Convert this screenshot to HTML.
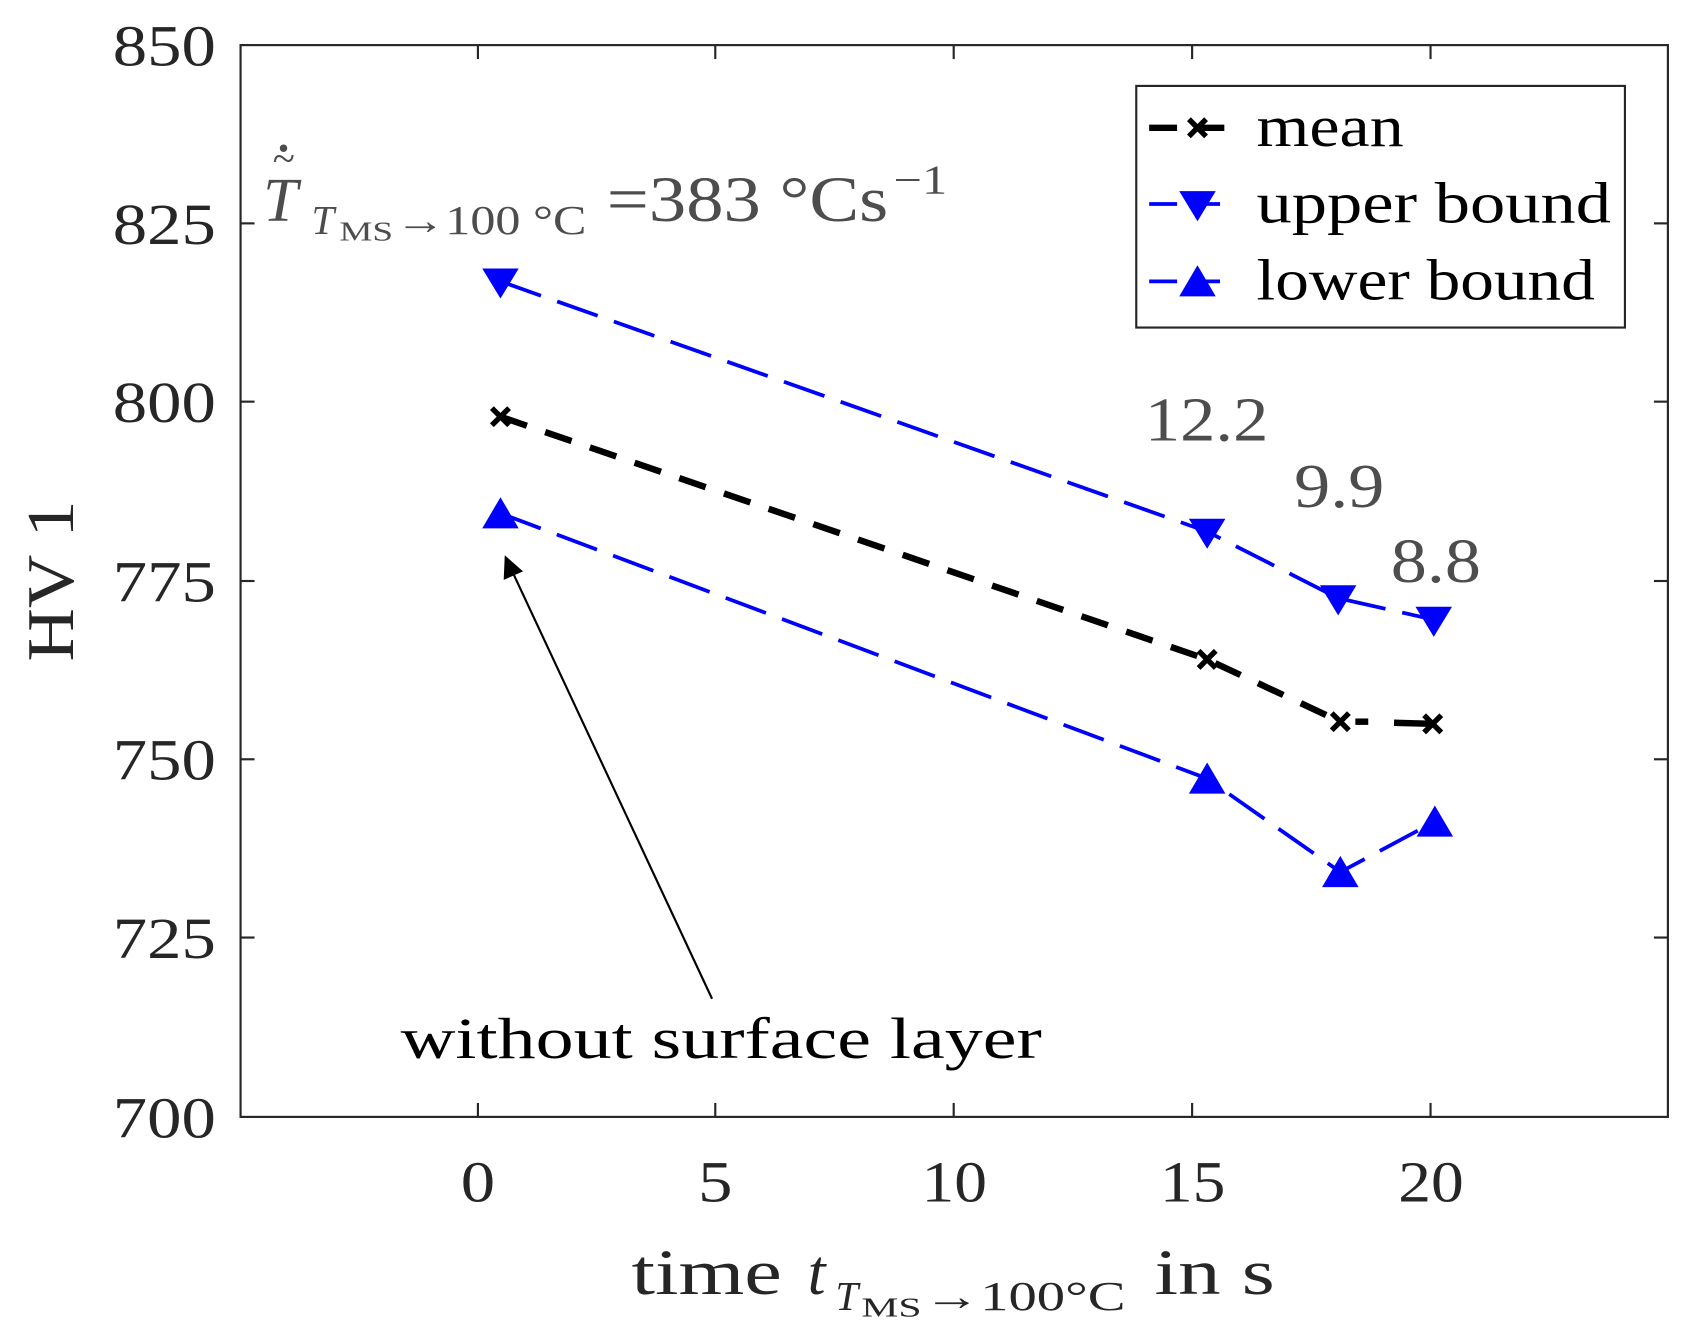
<!DOCTYPE html>
<html><head><style>html,body{margin:0;padding:0;background:#fff}svg{display:block}</style></head>
<body>
<svg width="1684" height="1329" viewBox="0 0 1568 1237.5" preserveAspectRatio="none" xmlns="http://www.w3.org/2000/svg" font-family="Liberation Serif, serif">
<rect x="0" y="0" width="1568" height="1238" fill="#fff"/>
<rect x="224" y="42" width="1329" height="998" fill="none" stroke="#262626" stroke-width="2"/>
<g stroke="#262626" stroke-width="2">
<line x1="445" y1="1040" x2="445" y2="1027"/><line x1="666" y1="1040" x2="666" y2="1027"/><line x1="888" y1="1040" x2="888" y2="1027"/><line x1="1110" y1="1040" x2="1110" y2="1027"/><line x1="1332" y1="1040" x2="1332" y2="1027"/>
<line x1="445" y1="42" x2="445" y2="55"/><line x1="666" y1="42" x2="666" y2="55"/><line x1="888" y1="42" x2="888" y2="55"/><line x1="1110" y1="42" x2="1110" y2="55"/><line x1="1332" y1="42" x2="1332" y2="55"/>
<line x1="224" y1="208" x2="237" y2="208"/><line x1="224" y1="374" x2="237" y2="374"/><line x1="224" y1="541" x2="237" y2="541"/><line x1="224" y1="707" x2="237" y2="707"/><line x1="224" y1="873" x2="237" y2="873"/>
<line x1="1553" y1="208" x2="1540" y2="208"/><line x1="1553" y1="374" x2="1540" y2="374"/><line x1="1553" y1="541" x2="1540" y2="541"/><line x1="1553" y1="707" x2="1540" y2="707"/><line x1="1553" y1="873" x2="1540" y2="873"/>
</g>
<g font-size="54" fill="#262626">
<text x="105" y="61" textLength="96" lengthAdjust="spacingAndGlyphs">850</text>
<text x="105" y="227" textLength="96" lengthAdjust="spacingAndGlyphs">825</text>
<text x="105" y="393" textLength="96" lengthAdjust="spacingAndGlyphs">800</text>
<text x="105" y="560" textLength="96" lengthAdjust="spacingAndGlyphs">775</text>
<text x="105" y="726" textLength="96" lengthAdjust="spacingAndGlyphs">750</text>
<text x="105" y="892" textLength="96" lengthAdjust="spacingAndGlyphs">725</text>
<text x="105" y="1059" textLength="96" lengthAdjust="spacingAndGlyphs">700</text>
</g>
<g font-size="54" fill="#262626">
<text x="429" y="1119" textLength="32" lengthAdjust="spacingAndGlyphs">0</text>
<text x="650" y="1119" textLength="32" lengthAdjust="spacingAndGlyphs">5</text>
<text x="858" y="1119" textLength="61" lengthAdjust="spacingAndGlyphs">10</text>
<text x="1080" y="1119" textLength="61" lengthAdjust="spacingAndGlyphs">15</text>
<text x="1302" y="1119" textLength="61" lengthAdjust="spacingAndGlyphs">20</text>
</g>
<text x="588" y="1205" font-size="60" fill="#262626" textLength="140" lengthAdjust="spacingAndGlyphs">time</text>
<text x="752" y="1205" font-size="60" fill="#262626" font-style="italic">t</text>
<text x="778" y="1220" font-size="38" fill="#262626" font-style="italic">T</text>
<text x="802" y="1226" font-size="26" fill="#262626" textLength="56" lengthAdjust="spacingAndGlyphs">MS</text>
<text x="860" y="1220" font-size="38" fill="#262626" textLength="188" lengthAdjust="spacingAndGlyphs">→100°C</text>
<text x="1075" y="1205" font-size="60" fill="#262626" textLength="112" lengthAdjust="spacingAndGlyphs">in s</text>
<text transform="translate(68,541) rotate(-90)" font-size="62" fill="#262626" text-anchor="middle" textLength="150" lengthAdjust="spacingAndGlyphs">HV 1</text>
<!-- series -->
<polyline points="466,262 1124,495 1246,557 1335,577" fill="none" stroke="#0000ff" stroke-width="3.5" stroke-dasharray="40,16"/>
<polyline points="466,478 1124,725 1248,812 1336,765" fill="none" stroke="#0000ff" stroke-width="3.5" stroke-dasharray="40,16"/>
<polyline points="466,388 1124,614 1248,672" fill="none" stroke="#000" stroke-width="6" stroke-dasharray="26,18"/>
<line x1="1262" y1="672" x2="1274" y2="672" stroke="#000" stroke-width="6"/>
<line x1="1298" y1="673" x2="1334" y2="674" stroke="#000" stroke-width="6"/>
<g fill="#0000ff">
<polygon points="449,250 483,250 466,278"/><polygon points="1107,483 1141,483 1124,511"/><polygon points="1229,545 1263,545 1246,573"/><polygon points="1318,565 1352,565 1335,593"/>
<polygon points="449,492 483,492 466,463"/><polygon points="1107,739 1141,739 1124,710"/><polygon points="1231,826 1265,826 1248,797"/><polygon points="1319,779 1353,779 1336,750"/>
</g>
<g stroke="#000" stroke-width="5">
<path d="M458,380 l16,16 M474,380 l-16,16"/><path d="M1116,606 l16,16 M1132,606 l-16,16"/><path d="M1240,664 l16,16 M1256,664 l-16,16"/><path d="M1326,666 l16,16 M1342,666 l-16,16"/>
</g>
<!-- annotations -->
<line x1="663" y1="930" x2="476" y2="530" stroke="#000" stroke-width="2"/>
<polygon points="470,517 469,540 487,532" fill="#000"/>
<text x="373" y="985" font-size="54" fill="#000" textLength="597" lengthAdjust="spacingAndGlyphs">without surface layer</text>
<g fill="#4d4d4d" font-size="58">
<text x="1066" y="410" textLength="115" lengthAdjust="spacingAndGlyphs">12.2</text>
<text x="1205" y="472" textLength="84" lengthAdjust="spacingAndGlyphs">9.9</text>
<text x="1295" y="542" textLength="84" lengthAdjust="spacingAndGlyphs">8.8</text>
</g>
<g fill="#4d4d4d">
<text x="245" y="206" font-size="58" font-style="italic">T</text>
<text x="254" y="160" font-size="38">~</text>
<circle cx="264" cy="138" r="3.5"/>
<text x="290" y="218" font-size="38" font-style="italic">T</text>
<text x="316" y="224" font-size="26" textLength="50" lengthAdjust="spacingAndGlyphs">MS</text>
<text x="368" y="218" font-size="38" textLength="178" lengthAdjust="spacingAndGlyphs">→100 °C</text>
<text x="565" y="206" font-size="60" textLength="262" lengthAdjust="spacingAndGlyphs">=383 °Cs</text>
<text x="832" y="180" font-size="38" textLength="50" lengthAdjust="spacingAndGlyphs">−1</text>
</g>
<!-- legend -->
<rect x="1058" y="80" width="455" height="225" fill="#fff" stroke="#262626" stroke-width="2"/>
<line x1="1070" y1="119" x2="1150" y2="119" stroke="#000" stroke-width="6" stroke-dasharray="26,18"/>
<path d="M1107,111 l16,16 M1123,111 l-16,16" stroke="#000" stroke-width="5"/>
<line x1="1070" y1="190" x2="1150" y2="190" stroke="#0000ff" stroke-width="3.5" stroke-dasharray="26,14"/>
<polygon points="1098,178 1132,178 1115,206" fill="#0000ff"/>
<line x1="1070" y1="262" x2="1150" y2="262" stroke="#0000ff" stroke-width="3.5" stroke-dasharray="26,14"/>
<polygon points="1098,276 1132,276 1115,247" fill="#0000ff"/>
<g font-size="54" fill="#000">
<text x="1170" y="136" textLength="137" lengthAdjust="spacingAndGlyphs">mean</text>
<text x="1170" y="207" textLength="330" lengthAdjust="spacingAndGlyphs">upper bound</text>
<text x="1170" y="279" textLength="315" lengthAdjust="spacingAndGlyphs">lower bound</text>
</g>
</svg>
</body></html>
